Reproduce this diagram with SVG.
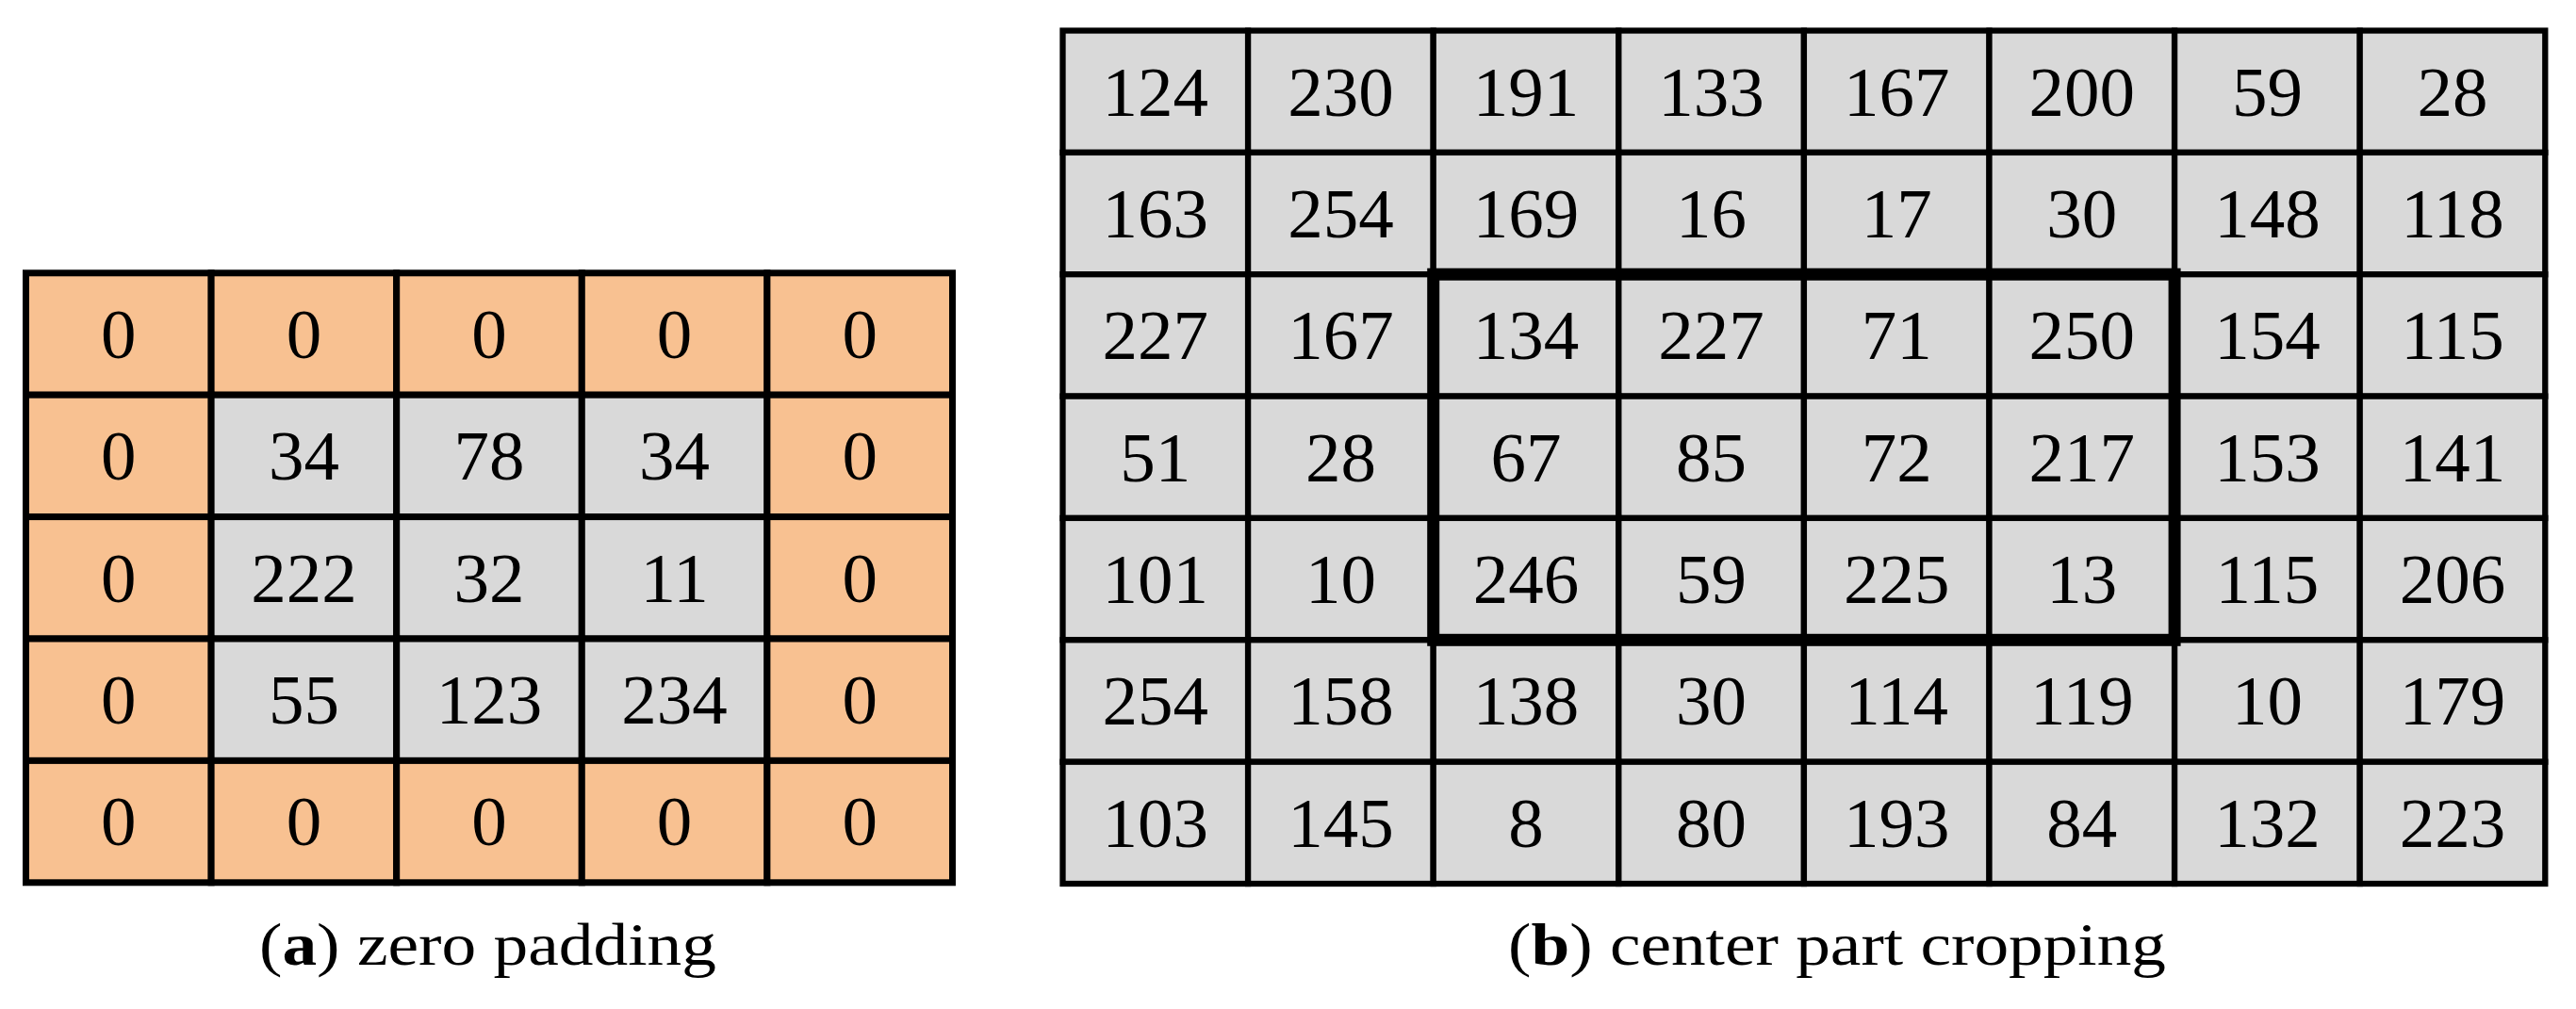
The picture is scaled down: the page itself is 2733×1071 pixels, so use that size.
<svg xmlns="http://www.w3.org/2000/svg" width="2733" height="1071" viewBox="0 0 2733 1071">
<style>
.o{fill:#F8C191;stroke:#000;stroke-width:7}
.g{fill:#D9D9D9;stroke:#000;stroke-width:7}
.h{fill:#D9D9D9;stroke:#000;stroke-width:6.3}
.t{font-family:"Liberation Serif","Times New Roman",serif;font-size:75px;fill:#000;text-anchor:middle}
.c{font-family:"Liberation Serif","Times New Roman",serif;font-size:64px;fill:#000}
.box{fill:none;stroke:#000;stroke-width:13}
</style>
<rect width="2733" height="1071" fill="#fff"/>
<g id="grid-a">
<g id="a00"><rect class="o" x="27.5" y="289.8" width="196.6" height="129.4"/><text class="t" x="125.8" y="379.8">0</text></g>
<g id="a01"><rect class="o" x="224.1" y="289.8" width="196.6" height="129.4"/><text class="t" x="322.4" y="379.8">0</text></g>
<g id="a02"><rect class="o" x="420.7" y="289.8" width="196.6" height="129.4"/><text class="t" x="519" y="379.8">0</text></g>
<g id="a03"><rect class="o" x="617.3" y="289.8" width="196.6" height="129.4"/><text class="t" x="715.6" y="379.8">0</text></g>
<g id="a04"><rect class="o" x="813.9" y="289.8" width="196.6" height="129.4"/><text class="t" x="912.2" y="379.8">0</text></g>
<g id="a10"><rect class="o" x="27.5" y="419.2" width="196.6" height="129.4"/><text class="t" x="125.8" y="509.2">0</text></g>
<g id="a11"><rect class="g" x="224.1" y="419.2" width="196.6" height="129.4"/><text class="t" x="322.4" y="509.2">34</text></g>
<g id="a12"><rect class="g" x="420.7" y="419.2" width="196.6" height="129.4"/><text class="t" x="519" y="509.2">78</text></g>
<g id="a13"><rect class="g" x="617.3" y="419.2" width="196.6" height="129.4"/><text class="t" x="715.6" y="509.2">34</text></g>
<g id="a14"><rect class="o" x="813.9" y="419.2" width="196.6" height="129.4"/><text class="t" x="912.2" y="509.2">0</text></g>
<g id="a20"><rect class="o" x="27.5" y="548.6" width="196.6" height="129.4"/><text class="t" x="125.8" y="638.6">0</text></g>
<g id="a21"><rect class="g" x="224.1" y="548.6" width="196.6" height="129.4"/><text class="t" x="322.4" y="638.6">222</text></g>
<g id="a22"><rect class="g" x="420.7" y="548.6" width="196.6" height="129.4"/><text class="t" x="519" y="638.6">32</text></g>
<g id="a23"><rect class="g" x="617.3" y="548.6" width="196.6" height="129.4"/><text class="t" x="715.6" y="638.6">11</text></g>
<g id="a24"><rect class="o" x="813.9" y="548.6" width="196.6" height="129.4"/><text class="t" x="912.2" y="638.6">0</text></g>
<g id="a30"><rect class="o" x="27.5" y="678" width="196.6" height="129.4"/><text class="t" x="125.8" y="768">0</text></g>
<g id="a31"><rect class="g" x="224.1" y="678" width="196.6" height="129.4"/><text class="t" x="322.4" y="768">55</text></g>
<g id="a32"><rect class="g" x="420.7" y="678" width="196.6" height="129.4"/><text class="t" x="519" y="768">123</text></g>
<g id="a33"><rect class="g" x="617.3" y="678" width="196.6" height="129.4"/><text class="t" x="715.6" y="768">234</text></g>
<g id="a34"><rect class="o" x="813.9" y="678" width="196.6" height="129.4"/><text class="t" x="912.2" y="768">0</text></g>
<g id="a40"><rect class="o" x="27.5" y="807.4" width="196.6" height="129.4"/><text class="t" x="125.8" y="897.4">0</text></g>
<g id="a41"><rect class="o" x="224.1" y="807.4" width="196.6" height="129.4"/><text class="t" x="322.4" y="897.4">0</text></g>
<g id="a42"><rect class="o" x="420.7" y="807.4" width="196.6" height="129.4"/><text class="t" x="519" y="897.4">0</text></g>
<g id="a43"><rect class="o" x="617.3" y="807.4" width="196.6" height="129.4"/><text class="t" x="715.6" y="897.4">0</text></g>
<g id="a44"><rect class="o" x="813.9" y="807.4" width="196.6" height="129.4"/><text class="t" x="912.2" y="897.4">0</text></g>
</g>
<g id="grid-b">
<g id="b00"><rect class="h" x="1127.5" y="32.5" width="196.6" height="129.4"/><text class="t" x="1225.8" y="122.5">124</text></g>
<g id="b01"><rect class="h" x="1324.1" y="32.5" width="196.6" height="129.4"/><text class="t" x="1422.4" y="122.5">230</text></g>
<g id="b02"><rect class="h" x="1520.7" y="32.5" width="196.6" height="129.4"/><text class="t" x="1619" y="122.5">191</text></g>
<g id="b03"><rect class="h" x="1717.3" y="32.5" width="196.6" height="129.4"/><text class="t" x="1815.6" y="122.5">133</text></g>
<g id="b04"><rect class="h" x="1913.9" y="32.5" width="196.6" height="129.4"/><text class="t" x="2012.2" y="122.5">167</text></g>
<g id="b05"><rect class="h" x="2110.5" y="32.5" width="196.6" height="129.4"/><text class="t" x="2208.8" y="122.5">200</text></g>
<g id="b06"><rect class="h" x="2307.1" y="32.5" width="196.6" height="129.4"/><text class="t" x="2405.4" y="122.5">59</text></g>
<g id="b07"><rect class="h" x="2503.7" y="32.5" width="196.6" height="129.4"/><text class="t" x="2602" y="122.5">28</text></g>
<g id="b10"><rect class="h" x="1127.5" y="161.9" width="196.6" height="129.4"/><text class="t" x="1225.8" y="251.9">163</text></g>
<g id="b11"><rect class="h" x="1324.1" y="161.9" width="196.6" height="129.4"/><text class="t" x="1422.4" y="251.9">254</text></g>
<g id="b12"><rect class="h" x="1520.7" y="161.9" width="196.6" height="129.4"/><text class="t" x="1619" y="251.9">169</text></g>
<g id="b13"><rect class="h" x="1717.3" y="161.9" width="196.6" height="129.4"/><text class="t" x="1815.6" y="251.9">16</text></g>
<g id="b14"><rect class="h" x="1913.9" y="161.9" width="196.6" height="129.4"/><text class="t" x="2012.2" y="251.9">17</text></g>
<g id="b15"><rect class="h" x="2110.5" y="161.9" width="196.6" height="129.4"/><text class="t" x="2208.8" y="251.9">30</text></g>
<g id="b16"><rect class="h" x="2307.1" y="161.9" width="196.6" height="129.4"/><text class="t" x="2405.4" y="251.9">148</text></g>
<g id="b17"><rect class="h" x="2503.7" y="161.9" width="196.6" height="129.4"/><text class="t" x="2602" y="251.9">118</text></g>
<g id="b20"><rect class="h" x="1127.5" y="291.2" width="196.6" height="129.4"/><text class="t" x="1225.8" y="381.2">227</text></g>
<g id="b21"><rect class="h" x="1324.1" y="291.2" width="196.6" height="129.4"/><text class="t" x="1422.4" y="381.2">167</text></g>
<g id="b22"><rect class="h" x="1520.7" y="291.2" width="196.6" height="129.4"/><text class="t" x="1619" y="381.2">134</text></g>
<g id="b23"><rect class="h" x="1717.3" y="291.2" width="196.6" height="129.4"/><text class="t" x="1815.6" y="381.2">227</text></g>
<g id="b24"><rect class="h" x="1913.9" y="291.2" width="196.6" height="129.4"/><text class="t" x="2012.2" y="381.2">71</text></g>
<g id="b25"><rect class="h" x="2110.5" y="291.2" width="196.6" height="129.4"/><text class="t" x="2208.8" y="381.2">250</text></g>
<g id="b26"><rect class="h" x="2307.1" y="291.2" width="196.6" height="129.4"/><text class="t" x="2405.4" y="381.2">154</text></g>
<g id="b27"><rect class="h" x="2503.7" y="291.2" width="196.6" height="129.4"/><text class="t" x="2602" y="381.2">115</text></g>
<g id="b30"><rect class="h" x="1127.5" y="420.6" width="196.6" height="129.4"/><text class="t" x="1225.8" y="510.6">51</text></g>
<g id="b31"><rect class="h" x="1324.1" y="420.6" width="196.6" height="129.4"/><text class="t" x="1422.4" y="510.6">28</text></g>
<g id="b32"><rect class="h" x="1520.7" y="420.6" width="196.6" height="129.4"/><text class="t" x="1619" y="510.6">67</text></g>
<g id="b33"><rect class="h" x="1717.3" y="420.6" width="196.6" height="129.4"/><text class="t" x="1815.6" y="510.6">85</text></g>
<g id="b34"><rect class="h" x="1913.9" y="420.6" width="196.6" height="129.4"/><text class="t" x="2012.2" y="510.6">72</text></g>
<g id="b35"><rect class="h" x="2110.5" y="420.6" width="196.6" height="129.4"/><text class="t" x="2208.8" y="510.6">217</text></g>
<g id="b36"><rect class="h" x="2307.1" y="420.6" width="196.6" height="129.4"/><text class="t" x="2405.4" y="510.6">153</text></g>
<g id="b37"><rect class="h" x="2503.7" y="420.6" width="196.6" height="129.4"/><text class="t" x="2602" y="510.6">141</text></g>
<g id="b40"><rect class="h" x="1127.5" y="549.9" width="196.6" height="129.4"/><text class="t" x="1225.8" y="639.9">101</text></g>
<g id="b41"><rect class="h" x="1324.1" y="549.9" width="196.6" height="129.4"/><text class="t" x="1422.4" y="639.9">10</text></g>
<g id="b42"><rect class="h" x="1520.7" y="549.9" width="196.6" height="129.4"/><text class="t" x="1619" y="639.9">246</text></g>
<g id="b43"><rect class="h" x="1717.3" y="549.9" width="196.6" height="129.4"/><text class="t" x="1815.6" y="639.9">59</text></g>
<g id="b44"><rect class="h" x="1913.9" y="549.9" width="196.6" height="129.4"/><text class="t" x="2012.2" y="639.9">225</text></g>
<g id="b45"><rect class="h" x="2110.5" y="549.9" width="196.6" height="129.4"/><text class="t" x="2208.8" y="639.9">13</text></g>
<g id="b46"><rect class="h" x="2307.1" y="549.9" width="196.6" height="129.4"/><text class="t" x="2405.4" y="639.9">115</text></g>
<g id="b47"><rect class="h" x="2503.7" y="549.9" width="196.6" height="129.4"/><text class="t" x="2602" y="639.9">206</text></g>
<g id="b50"><rect class="h" x="1127.5" y="679.3" width="196.6" height="129.4"/><text class="t" x="1225.8" y="769.3">254</text></g>
<g id="b51"><rect class="h" x="1324.1" y="679.3" width="196.6" height="129.4"/><text class="t" x="1422.4" y="769.3">158</text></g>
<g id="b52"><rect class="h" x="1520.7" y="679.3" width="196.6" height="129.4"/><text class="t" x="1619" y="769.3">138</text></g>
<g id="b53"><rect class="h" x="1717.3" y="679.3" width="196.6" height="129.4"/><text class="t" x="1815.6" y="769.3">30</text></g>
<g id="b54"><rect class="h" x="1913.9" y="679.3" width="196.6" height="129.4"/><text class="t" x="2012.2" y="769.3">114</text></g>
<g id="b55"><rect class="h" x="2110.5" y="679.3" width="196.6" height="129.4"/><text class="t" x="2208.8" y="769.3">119</text></g>
<g id="b56"><rect class="h" x="2307.1" y="679.3" width="196.6" height="129.4"/><text class="t" x="2405.4" y="769.3">10</text></g>
<g id="b57"><rect class="h" x="2503.7" y="679.3" width="196.6" height="129.4"/><text class="t" x="2602" y="769.3">179</text></g>
<g id="b60"><rect class="h" x="1127.5" y="808.7" width="196.6" height="129.3"/><text class="t" x="1225.8" y="898.7">103</text></g>
<g id="b61"><rect class="h" x="1324.1" y="808.7" width="196.6" height="129.3"/><text class="t" x="1422.4" y="898.7">145</text></g>
<g id="b62"><rect class="h" x="1520.7" y="808.7" width="196.6" height="129.3"/><text class="t" x="1619" y="898.7">8</text></g>
<g id="b63"><rect class="h" x="1717.3" y="808.7" width="196.6" height="129.3"/><text class="t" x="1815.6" y="898.7">80</text></g>
<g id="b64"><rect class="h" x="1913.9" y="808.7" width="196.6" height="129.3"/><text class="t" x="2012.2" y="898.7">193</text></g>
<g id="b65"><rect class="h" x="2110.5" y="808.7" width="196.6" height="129.3"/><text class="t" x="2208.8" y="898.7">84</text></g>
<g id="b66"><rect class="h" x="2307.1" y="808.7" width="196.6" height="129.3"/><text class="t" x="2405.4" y="898.7">132</text></g>
<g id="b67"><rect class="h" x="2503.7" y="808.7" width="196.6" height="129.3"/><text class="t" x="2602" y="898.7">223</text></g>
<g id="crop-box"><rect class="box" x="1520.7" y="291.2" width="786.4" height="388.1"/></g>
</g>
<g id="captions">
<text class="c" x="275" y="1024" textLength="485" lengthAdjust="spacingAndGlyphs">(<tspan font-weight="bold">a</tspan>) zero padding</text>
<text class="c" x="1600" y="1024" textLength="698" lengthAdjust="spacingAndGlyphs">(<tspan font-weight="bold">b</tspan>) center part cropping</text>
</g>
</svg>
